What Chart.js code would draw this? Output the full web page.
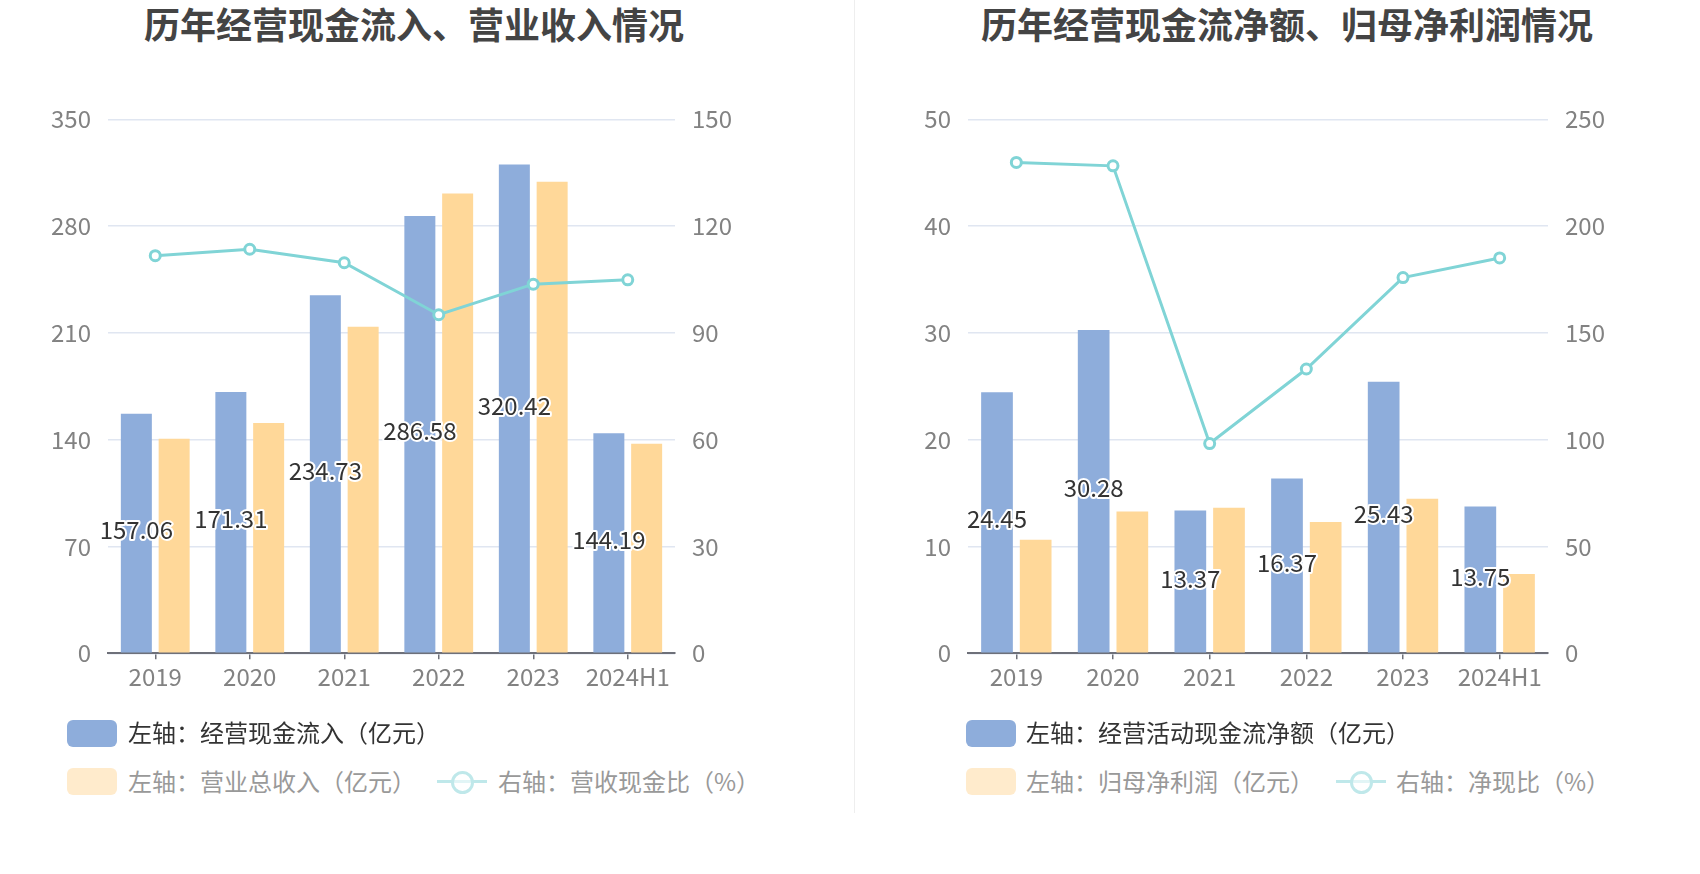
<!DOCTYPE html>
<html>
<head>
<meta charset="utf-8">
<script src="https://cdn.jsdelivr.net/npm/chart.js@4.4.0/dist/chart.umd.min.js"></script>
<style>
  html,body{margin:0;padding:0;background:#fff;}
  body{width:1700px;height:874px;overflow:hidden;position:relative;font-family:"Noto Sans CJK SC","Noto Sans",sans-serif;}
  .title{position:absolute;top:1px;font-size:36px;font-weight:bold;color:#444;white-space:nowrap;transform:translateX(-50%);line-height:44px;}
  canvas{position:absolute;top:0;}
  .lgtext{position:absolute;font-size:24px;white-space:nowrap;line-height:28px;}
  .sw{position:absolute;width:50px;height:27px;border-radius:6px;}
  .lline{position:absolute;width:50px;height:3px;background:#BFE8EA;}
  .lcirc{position:absolute;width:17px;height:17px;border:3px solid #BFE8EA;border-radius:50%;background:rgba(255,255,255,0.55);}
  .divider{position:absolute;left:854px;top:0;width:1px;height:813px;background:#EEEEEE;}
</style>
</head>
<body>
<div class="title" style="left:414px;">历年经营现金流入、营业收入情况</div>
<div class="title" style="left:1287px;">历年经营现金流净额、归母净利润情况</div>
<div class="divider"></div>
<canvas id="c1" width="854" height="720" style="left:0;"></canvas>
<canvas id="c2" width="846" height="720" style="left:854px;"></canvas>

<!-- left legend -->
<div class="sw" style="left:67px;top:720px;background:#8EADDB;"></div>
<div class="lgtext" style="left:128px;top:718px;color:#333;">左轴：经营现金流入（亿元）</div>
<div class="sw" style="left:67px;top:768px;background:#FFEBCC;"></div>
<div class="lgtext" style="left:128px;top:767px;color:#999;">左轴：营业总收入（亿元）</div>
<div class="lline" style="left:437px;top:780px;"></div>
<div class="lcirc" style="left:451px;top:771px;"></div>
<div class="lgtext" style="left:498px;top:767px;color:#999;">右轴：营收现金比（%）</div>

<!-- right legend -->
<div class="sw" style="left:966px;top:720px;background:#8EADDB;"></div>
<div class="lgtext" style="left:1026px;top:718px;color:#333;">左轴：经营活动现金流净额（亿元）</div>
<div class="sw" style="left:966px;top:768px;background:#FFEBCC;"></div>
<div class="lgtext" style="left:1026px;top:767px;color:#999;">左轴：归母净利润（亿元）</div>
<div class="lline" style="left:1336px;top:780px;"></div>
<div class="lcirc" style="left:1350px;top:771px;"></div>
<div class="lgtext" style="left:1396px;top:767px;color:#999;">右轴：净现比（%）</div>

<script>
// ---- data ----
const categories = ['2019','2020','2021','2022','2023','2024H1'];
// left chart
const cashInflow    = [157.06, 171.31, 234.73, 286.58, 320.42, 144.19];
const totalRevenue  = [140.6, 150.9, 214.0, 301.3, 309.0, 137.4];
const revCashRatio  = [111.7, 113.5, 109.7, 95.1, 103.7, 104.9];
// right chart
const netOpCashFlow = [24.45, 30.28, 13.37, 16.37, 25.43, 13.75];
const netProfit     = [10.64, 13.27, 13.62, 12.30, 14.46, 7.43];
const netCashRatio  = [229.8, 228.2, 98.2, 133.1, 175.9, 185.1];
// axis ranges
const leftAxisA  = [0, 350, 70];
const rightAxisA = [0, 150, 30];
const leftAxisB  = [0, 50, 10];
const rightAxisB = [0, 250, 50];

const FONT = '"Noto Sans CJK SC", "Noto Sans", sans-serif';
const BLUE = '#8EADDB';
const YELLOW = '#FFD899';
const CYAN = '#80D4D6';
const TICK = '#828282';

const valueLabels = {
  id: 'valueLabels',
  afterDatasetsDraw(chart) {
    const meta = chart.getDatasetMeta(0);
    const ds = chart.data.datasets[0].data;
    const ctx = chart.ctx;
    ctx.save();
    ctx.font = '24px ' + FONT;
    ctx.textAlign = 'center';
    ctx.textBaseline = 'middle';
    ctx.lineWidth = 4;
    ctx.lineJoin = 'round';
    ctx.strokeStyle = '#fff';
    ctx.fillStyle = '#333';
    meta.data.forEach((bar, i) => {
      const txt = ds[i].toFixed(2);
      const y = (bar.y + bar.base) / 2 - 3;
      ctx.strokeText(txt, bar.x, y);
      ctx.fillText(txt, bar.x, y);
    });
    ctx.restore();
  }
};

function makeChart(id, bar1, bar2, line, la, ra, padL, padR) {
  return new Chart(document.getElementById(id), {
    data: {
      labels: categories,
      datasets: [
        {type: 'bar', data: bar1, backgroundColor: BLUE, yAxisID: 'y', order: 2,
         categoryPercentage: 0.8, barPercentage: 0.82},
        {type: 'bar', data: bar2, backgroundColor: YELLOW, yAxisID: 'y', order: 2,
         categoryPercentage: 0.8, barPercentage: 0.82},
        {type: 'line', data: line, yAxisID: 'y1', order: 1, borderColor: CYAN, borderWidth: 3,
         pointRadius: 5, pointBackgroundColor: '#fff', pointBorderColor: CYAN, pointBorderWidth: 3,
         tension: 0, fill: false}
      ]
    },
    options: {
      responsive: false, animation: false, devicePixelRatio: 1,
      layout: {padding: {left: padL, right: padR, top: 119.3, bottom: 16.7}},
      plugins: {legend: {display: false}, tooltip: {enabled: false}, title: {display: false}},
      scales: {
        x: {
          offset: true,
          grid: {display: true, offset: false, drawOnChartArea: false, drawTicks: true, tickLength: 6,
                 color: '#6E7079', lineWidth: 1.5},
          border: {display: true, color: '#6E7079', width: 2},
          ticks: {color: TICK, font: {size: 24, family: FONT}, padding: 3, maxRotation: 0, autoSkip: false},
          afterFit(s) { s.height = 50; }
        },
        y: {
          position: 'left', min: la[0], max: la[1],
          ticks: {stepSize: la[2], color: TICK, font: {size: 24, family: FONT}, padding: 17},
          grid: {color: '#E0E6F1', lineWidth: 1.5, drawTicks: false},
          border: {display: false},
          afterFit(s) { s.width = 60; }
        },
        y1: {
          position: 'right', min: ra[0], max: ra[1],
          ticks: {stepSize: ra[2], color: TICK, font: {size: 24, family: FONT}, padding: 17},
          grid: {drawOnChartArea: false, drawTicks: false},
          border: {display: false},
          afterFit(s) { s.width = 60; }
        }
      }
    },
    plugins: [valueLabels]
  });
}

makeChart('c1', cashInflow, totalRevenue, revCashRatio, leftAxisA, rightAxisA, 48, 119);
makeChart('c2', netOpCashFlow, netProfit, netCashRatio, leftAxisB, rightAxisB, 54, 92);
</script>
</body>
</html>
